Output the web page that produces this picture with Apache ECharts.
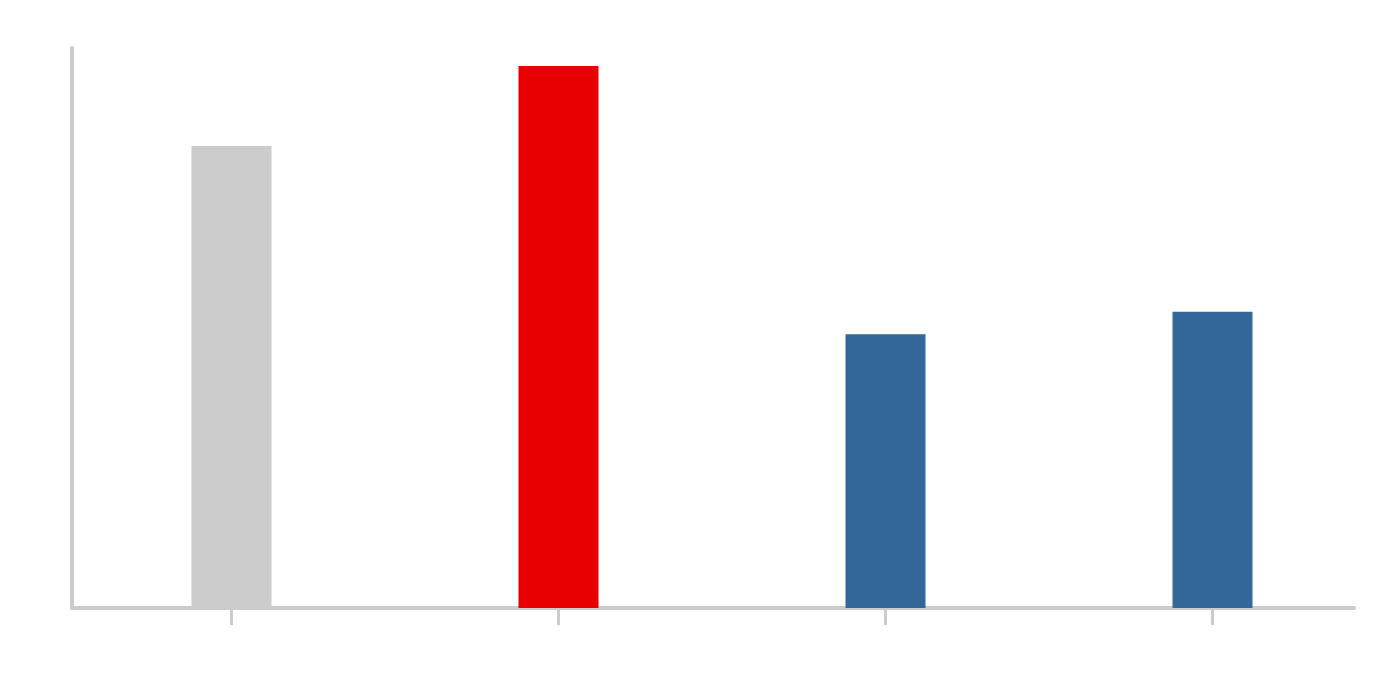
<!DOCTYPE html>
<html lang="en">
<head>
    <meta charset="UTF-8">
    <title>Bar chart</title>
    <script src="https://cdn.jsdelivr.net/npm/echarts@6.0.0/dist/echarts.min.js"></script>
    <style>
        * { margin: 0; padding: 0; box-sizing: border-box; }
        html, body { width: 100%; height: 100%; background: #fff; overflow: hidden; }
        #chart { width: 1400px; height: 680px; }
    </style>
</head>
<body>
    <div id="chart"></div>
    <script>
        // data (no labels shown in the original)
        const categories = ['A', 'B', 'C', 'D'];
        const values = [8.25, 9.68, 4.89, 5.29];
        const barColors = ['#cccccc', '#e80000', '#336699', '#336699'];
        const yMax = 10;

        const chart = echarts.init(document.getElementById('chart'), null, { renderer: 'canvas' });

        const axisGrey = '#cccccc';

        chart.setOption({
            animation: false,
            grid: [
                // bars + ticks
                { left: 68, right: 24, top: 48, bottom: 72 },
                // axis lines only
                { left: 72, right: 46, top: 48, bottom: 72 }
            ],
            xAxis: [
                {
                    type: 'category',
                    gridIndex: 0,
                    data: categories,
                    offset: 4,
                    axisLine: { show: false },
                    axisTick: { show: true, alignWithLabel: true, length: 17, lineStyle: { color: axisGrey, width: 3 } },
                    axisLabel: { show: false },
                    splitLine: { show: false }
                },
                {
                    type: 'category',
                    gridIndex: 1,
                    data: categories,
                    offset: 2,
                    axisLine: { show: true, lineStyle: { color: axisGrey, width: 4 } },
                    axisTick: { show: false },
                    axisLabel: { show: false },
                    splitLine: { show: false }
                }
            ],
            yAxis: [
                {
                    type: 'value',
                    gridIndex: 0,
                    min: 0,
                    max: yMax,
                    axisLine: { show: false },
                    axisTick: { show: false },
                    axisLabel: { show: false },
                    splitLine: { show: false }
                },
                {
                    type: 'value',
                    gridIndex: 1,
                    min: 0,
                    max: yMax,
                    axisLine: { show: true, lineStyle: { color: axisGrey, width: 4 } },
                    axisTick: { show: false },
                    axisLabel: { show: false },
                    splitLine: { show: false }
                }
            ],
            series: [
                {
                    type: 'bar',
                    xAxisIndex: 0,
                    yAxisIndex: 0,
                    barWidth: 80,
                    data: values.map((v, i) => ({ value: v, itemStyle: { color: barColors[i] } }))
                }
            ]
        });
    </script>
</body>
</html>
